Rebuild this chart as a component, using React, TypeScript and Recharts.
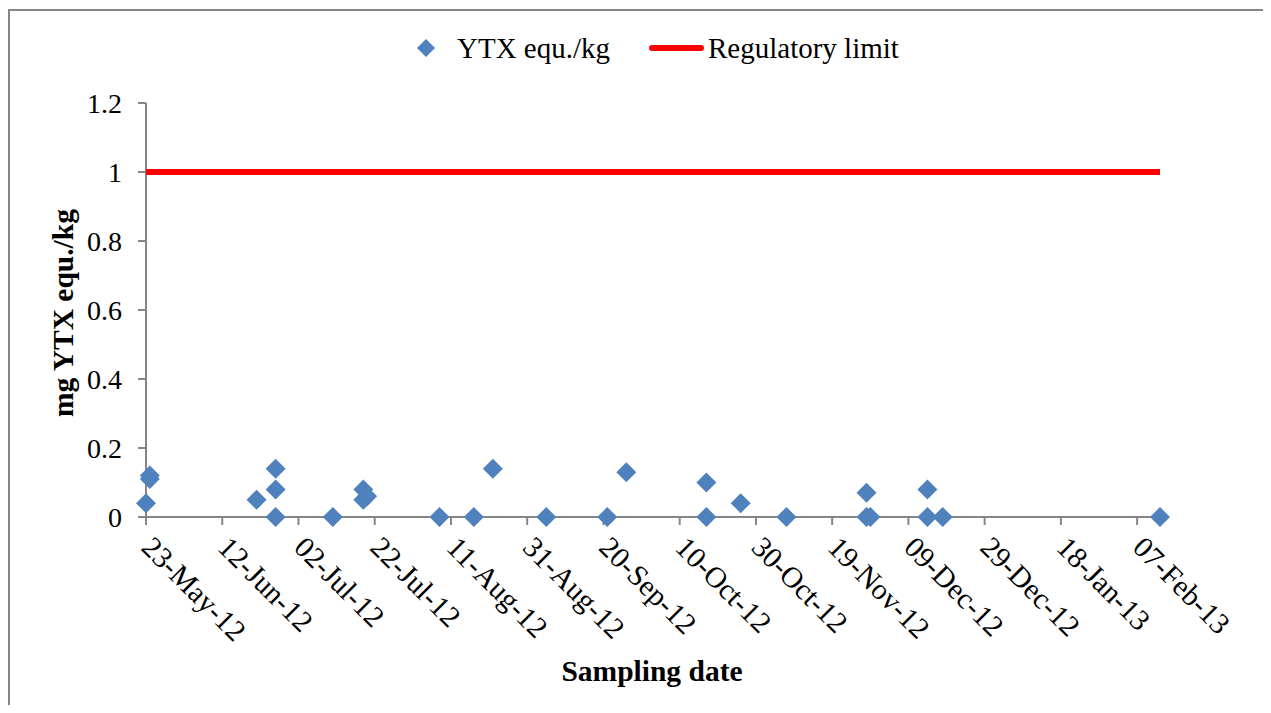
import React from 'react';
import { ScatterChart, Scatter, XAxis, YAxis, Legend } from 'recharts';

// Sampling dates and YTX values (mg YTX equ./kg)
const sampleDates = [
  '2012-05-23', '2012-05-24', '2012-05-24', '2012-06-21', '2012-06-26', '2012-06-26', '2012-06-26',
  '2012-07-11', '2012-07-19', '2012-07-19', '2012-07-20', '2012-08-08', '2012-08-17', '2012-08-22',
  '2012-09-05', '2012-09-21', '2012-09-26', '2012-10-17', '2012-10-17', '2012-10-26', '2012-11-07',
  '2012-11-28', '2012-11-28', '2012-11-29', '2012-12-14', '2012-12-14', '2012-12-18', '2013-02-13',
];
const ytxValues = [
  0.04, 0.12, 0.11, 0.05, 0.14, 0.08, 0,
  0, 0.08, 0.05, 0.06, 0, 0, 0.14,
  0, 0, 0.13, 0.10, 0, 0.04, 0,
  0.07, 0, 0, 0.08, 0, 0, 0,
];

// Regulatory limit series
const limitDates = ['2012-05-23', '2013-02-13'];
const limitValues = [1, 1];

// Axes
const axisStart = '2012-05-23';
const axisEnd = '2013-02-13';
const xTickDates = [
  '2012-05-23', '2012-06-12', '2012-07-02', '2012-07-22', '2012-08-11', '2012-08-31', '2012-09-20',
  '2012-10-10', '2012-10-30', '2012-11-19', '2012-12-09', '2012-12-29', '2013-01-18', '2013-02-07',
];
const yTicks = [0, 0.2, 0.4, 0.6, 0.8, 1, 1.2];

const MONTHS = ['Jan', 'Feb', 'Mar', 'Apr', 'May', 'Jun', 'Jul', 'Aug', 'Sep', 'Oct', 'Nov', 'Dec'];
const toUTC = (s: string) => {
  const [y, m, d] = s.split('-').map(Number);
  return Date.UTC(y, m - 1, d);
};
const DAY = 86400000;
const dayOf = (s: string) => Math.round((toUTC(s) - toUTC(axisStart)) / DAY);
const fmtDay = (n: number) => {
  const dt = new Date(toUTC(axisStart) + n * DAY);
  const dd = String(dt.getUTCDate()).padStart(2, '0');
  const yy = String(dt.getUTCFullYear()).slice(2);
  return `${dd}-${MONTHS[dt.getUTCMonth()]}-${yy}`;
};

const ytxData = sampleDates.map((d, i) => ({ x: dayOf(d), y: ytxValues[i] }));
const limitData = limitDates.map((d, i) => ({ x: dayOf(d), y: limitValues[i] }));

const FONT = "'Liberation Serif', 'Times New Roman', serif";
const BLUE = '#4F81BD';
const AXIS = '#868686';
const W = 1261;
const H = 694;

const Diamond = (props: any) => {
  const { cx, cy } = props;
  if (cx == null || cy == null) return <g />;
  const r = 10;
  return <polygon points={`${cx},${cy - r} ${cx + r},${cy} ${cx},${cy + r} ${cx - r},${cy}`} fill={BLUE} />;
};

const NoShape = () => <g />;

const XTick = (props: any) => {
  const { x, y, payload } = props;
  const px = x - 6;
  const py = y + 22;
  return (
    <text x={px} y={py} transform={`rotate(45, ${px}, ${py})`} textAnchor="start" fontFamily={FONT} fontSize={29.5} fill="#000">
      {fmtDay(payload.value)}
    </text>
  );
};

const YTick = (props: any) => {
  const { x, y, payload } = props;
  return (
    <text x={x} y={y} dy="0.35em" textAnchor="end" fontFamily={FONT} fontSize={28} fill="#000">
      {String(payload.value)}
    </text>
  );
};

const LegendContent = () => (
  <div style={{ position: 'relative', width: W, height: 40, fontFamily: FONT, fontSize: 29, color: '#000' }}>
    <svg style={{ position: 'absolute', left: 407, top: 11 }} width={18} height={18}>
      <polygon points="9,0 18,9 9,18 0,9" fill={BLUE} />
    </svg>
    <span style={{ position: 'absolute', left: 447, top: 0, lineHeight: '40px', whiteSpace: 'nowrap' }}>YTX equ./kg</span>
    <div style={{ position: 'absolute', left: 639, top: 17, width: 55, height: 6, borderRadius: 3, background: '#FF0000' }} />
    <span style={{ position: 'absolute', left: 698, top: 0, lineHeight: '40px', whiteSpace: 'nowrap' }}>Regulatory limit</span>
  </div>
);

export default function App() {
  return (
    <div
      style={{
        position: 'relative',
        marginTop: 1,
        width: W,
        height: H,
        borderTop: `2px solid ${AXIS}`,
        borderLeft: `2px solid ${AXIS}`,
        background: '#fff',
      }}
    >
      <ScatterChart width={W} height={H} margin={{ top: 52, right: 111, bottom: 38, left: 56 }}>
        <XAxis
          type="number"
          dataKey="x"
          domain={[0, dayOf(axisEnd)]}
          ticks={xTickDates.map(dayOf)}
          height={150}
          tickSize={8}
          tickMargin={2}
          stroke={AXIS}
          strokeWidth={2}
          tick={<XTick />}
          interval={0}
        />
        <YAxis
          type="number"
          dataKey="y"
          domain={[0, 1.2]}
          ticks={yTicks}
          width={80}
          tickSize={8}
          tickMargin={16}
          stroke={AXIS}
          strokeWidth={2}
          tick={<YTick />}
          interval={0}
        />
        <Legend
          verticalAlign="top"
          content={<LegendContent />}
          wrapperStyle={{ top: 17, left: 0, width: W, height: 40 }}
        />
        <Scatter
          name="Regulatory limit"
          data={limitData}
          line={{ stroke: '#FF0000', strokeWidth: 6 }}
          lineType="joint"
          shape={<NoShape />}
          isAnimationActive={false}
        />
        <Scatter name="YTX equ./kg" data={ytxData} shape={<Diamond />} fill={BLUE} isAnimationActive={false} />
      </ScatterChart>
      <svg
        width={W}
        height={H}
        style={{ position: 'absolute', left: 0, top: 0, pointerEvents: 'none' }}
      >
        <text x={63} y={302} transform="rotate(-90, 63, 302)" textAnchor="middle" fontFamily={FONT} fontWeight="bold" fontSize={29.5} fill="#000">
          mg YTX equ./kg
        </text>
        <text x={642} y={670} textAnchor="middle" fontFamily={FONT} fontWeight="bold" fontSize={29.5} fill="#000">
          Sampling date
        </text>
      </svg>
    </div>
  );
}
